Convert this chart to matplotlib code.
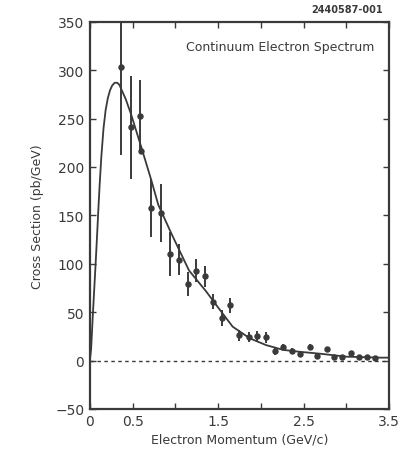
import matplotlib.pyplot as plt

# Measured points (electron momentum GeV/c, cross section pb/GeV)
p = [0.363, 0.48, 0.588, 0.60, 0.717, 0.836, 0.94, 1.04, 1.147, 1.245, 1.344,
     1.44, 1.545, 1.643, 1.75, 1.86, 1.96, 2.06, 2.16, 2.26, 2.36, 2.46, 2.57,
     2.66, 2.77, 2.86, 2.95, 3.05, 3.15, 3.24, 3.34]
sigma = [303, 241, 253, 217, 158, 152, 110, 104, 79, 93, 87, 61, 44, 57, 26,
         24, 25, 24, 10, 14, 10, 7, 14, 5, 12, 3.5, 3.5, 7.6, 4, 3.5, 3]
err = [91, 53, 37, 4, 30, 30, 23, 16, 12, 12, 11, 8, 8, 8, 6, 5, 6, 6, 4, 3,
       3, 3, 3, 2, 2, 2, 2, 2, 2, 2, 2]

# Fit curve
curve_p = [0, 0.015, 0.035, 0.067, 0.085, 0.1, 0.115, 0.134, 0.16, 0.185, 0.21,
           0.235, 0.26, 0.29, 0.32, 0.345, 0.37, 0.42, 0.48, 0.6, 0.72, 0.8,
           0.96, 1.16, 1.355, 1.49, 1.67, 1.87, 2.06, 2.26, 2.46, 2.7, 3.0,
           3.4, 3.5]
curve_sigma = [0, 12, 47, 99, 130, 157, 182, 210, 240, 259, 271, 279, 284, 287,
               287, 285, 280, 270, 255, 221, 186, 161, 130, 93, 72, 56, 35, 23,
               16, 11, 9, 7, 4, 3, 3]

ink = '#3a3a3a'
fig = plt.figure(figsize=(4.14, 4.56), dpi=100)
ax = fig.add_axes([0.217, 0.101, 0.723, 0.849])

ax.axhline(0, color=ink, lw=1.0, ls=(0, (2.5, 2.5)))
ax.plot(curve_p, curve_sigma, color=ink, lw=1.3)
ax.errorbar(p, sigma, yerr=err, fmt='o', color=ink, ms=3.6, elinewidth=1.4,
            capsize=0)

ax.set_xlim(0, 3.5)
ax.set_ylim(-50, 350)
ax.set_xticks([0, 0.5, 1.0, 1.5, 2.0, 2.5, 3.0, 3.5])
ax.set_xticklabels(['0', '0.5', '', '1.5', '', '2.5', '', '3.5'])
ax.set_yticks(range(-50, 351, 50))
ax.tick_params(direction='in', top=True, right=True, length=4, width=1,
               colors=ink, labelsize=10, pad=4)
for s in ax.spines.values():
    s.set_linewidth(1.6)
    s.set_color(ink)

ax.set_xlabel('Electron Momentum (GeV/c)', fontsize=9, color=ink, labelpad=3)
ax.set_ylabel('Cross Section (pb/GeV)', fontsize=9, color=ink, labelpad=8)
ax.text(0.95, 0.935, 'Continuum Electron Spectrum', transform=ax.transAxes,
        ha='right', va='center', fontsize=9, color=ink)
fig.text(0.925, 0.978, '2440587-001', ha='right', va='center', fontsize=7,
         color=ink, fontweight='bold')

fig.savefig('out.png', dpi=100)
